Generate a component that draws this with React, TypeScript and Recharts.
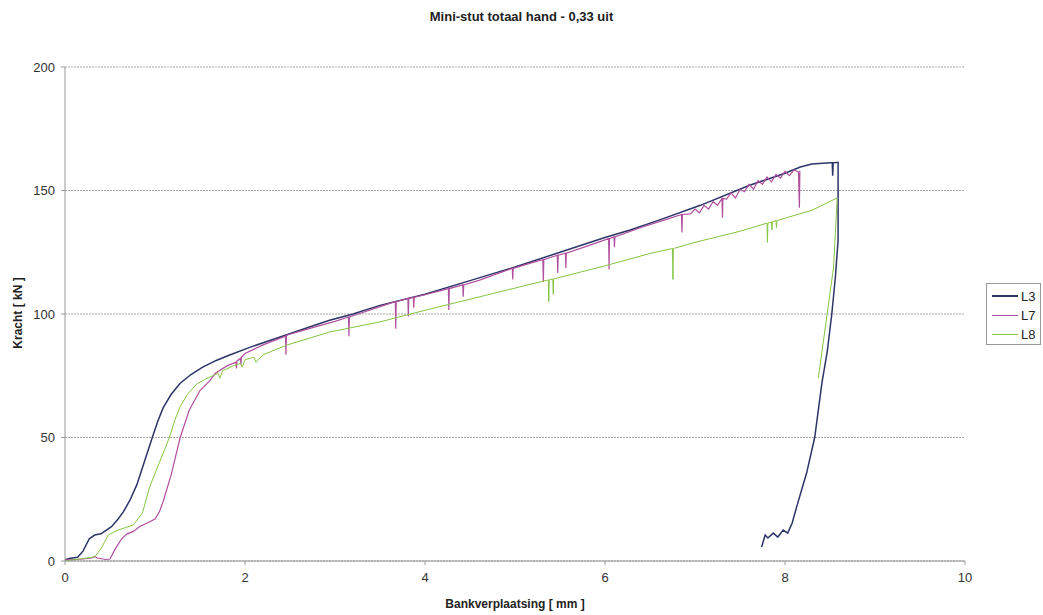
import React from "react";
import { LineChart, Line, XAxis, YAxis, CartesianGrid } from "recharts";

const title = "Mini-stut totaal hand - 0,33 uit";
const xTitle = "Bankverplaatsing [ mm ]";
const yTitle = "Kracht [ kN ]";
const xTicks = [0, 2, 4, 6, 8, 10];
const yTicks = [0, 50, 100, 150, 200];
const seriesNames = ["L3", "L7", "L8"];
const seriesColors = ["#2d3468", "#b14f9e", "#86c443"];

const l3X = [0, 0.05, 0.14, 0.2, 0.27, 0.33, 0.4, 0.44, 0.52, 0.59, 0.65, 0.72, 0.8, 0.88, 0.97, 1.03, 1.09, 1.18, 1.28, 1.4, 1.53, 1.68, 1.83, 2.06, 2.39, 2.7, 2.94, 3.2, 3.5, 4.0, 4.5, 5.0, 5.5, 6.0, 6.28, 6.6, 7.06, 7.6, 8.0, 8.17, 8.3, 8.5, 8.525, 8.53, 8.535, 8.57, 8.59, 8.59, 8.56, 8.52, 8.47, 8.41, 8.33, 8.24, 8.13, 8.08, 8.03, 7.98, 7.92, 7.87, 7.81, 7.78, 7.74];
const l3Y = [0.5, 1, 1.5, 4, 9, 10.5, 11, 12, 14, 17, 20, 24.5, 31, 40, 50, 56.5, 62, 67.5, 72, 75.5, 78.5, 81.2, 83.4, 86.6, 90.7, 94.5, 97.5, 100, 103.5, 108, 113.5, 119, 125, 131, 134, 138, 144, 152, 157, 159.5, 160.7, 161.2, 161.2, 156, 161.2, 161.3, 161.3, 130, 115, 100, 85, 72, 50, 35.6, 22, 15.4, 11.3, 12.5, 9.7, 11.3, 9.3, 10.5, 5.7];

const l7X = [0, 0.1, 0.2, 0.3, 0.33, 0.36, 0.45, 0.5, 0.56, 0.63, 0.69, 0.76, 0.83, 0.92, 1.0, 1.05, 1.09, 1.18, 1.28, 1.38, 1.5, 1.61, 1.67, 1.8, 1.9, 1.905, 1.91, 1.95, 1.955, 1.96, 2.0, 2.2, 2.45, 2.455, 2.46, 2.47, 2.75, 3.0, 3.15, 3.155, 3.16, 3.3, 3.5, 3.67, 3.675, 3.68, 3.75, 3.81, 3.815, 3.82, 3.87, 3.875, 3.88, 4.0, 4.26, 4.265, 4.27, 4.42, 4.425, 4.43, 4.6, 4.97, 4.975, 4.98, 5.2, 5.31, 5.315, 5.32, 5.47, 5.475, 5.48, 5.56, 5.565, 5.57, 5.8, 6.04, 6.045, 6.05, 6.1, 6.105, 6.11, 6.4, 6.7, 6.85, 6.855, 6.86, 6.95, 7.0, 7.05, 7.1, 7.15, 7.2, 7.25, 7.3, 7.305, 7.31, 7.35, 7.4, 7.45, 7.5, 7.55, 7.6, 7.65, 7.7, 7.75, 7.8, 7.85, 7.9, 7.95, 8.0, 8.05, 8.1, 8.15, 8.16, 8.165];
const l7Y = [0.5, 0.5, 0.8, 1.2, 1.8, 1.2, 0.6, 0.8, 5, 9, 11, 12, 14, 15.5, 17, 20, 24, 35, 50, 61, 69, 73, 76, 79, 80.5, 78, 81, 82, 79.5, 82.5, 84, 87.5, 91, 83.5, 91, 91.5, 94.5, 97, 98.8, 91, 98.8, 100.5, 103, 105, 94, 105, 105.7, 106.3, 99, 106.3, 106.8, 102.5, 106.8, 107.8, 110.3, 101.6, 110.3, 111.8, 107, 111.8, 113.6, 118.5, 114, 118.5, 120.9, 122, 113, 122, 123.8, 116.6, 123.8, 124.6, 118.6, 124.6, 127.5, 130.5, 118, 130.5, 131.2, 127, 131.2, 135, 138.5, 140.3, 133, 140.3, 140.5, 142.5, 141, 144, 142.5, 145.5, 144, 146.8, 139, 146.8, 146.5, 149, 147, 150.5, 149.5, 152.5, 150.5, 154, 152.5, 155.5, 153.5, 156.5, 155, 157.8, 156, 158.3, 157.5, 143, 158];

const l8X = [0, 0.1, 0.2, 0.3, 0.33, 0.4, 0.48, 0.53, 0.59, 0.67, 0.76, 0.86, 0.94, 1.05, 1.16, 1.22, 1.28, 1.36, 1.46, 1.55, 1.64, 1.7, 1.72, 1.75, 1.87, 1.95, 1.97, 2.0, 2.1, 2.12, 2.2, 2.47, 2.94, 3.5, 4.0, 4.5, 5.0, 5.37, 5.375, 5.38, 5.42, 5.425, 5.43, 6.0, 6.5, 6.75, 6.755, 6.76, 7.0, 7.5, 7.8, 7.805, 7.81, 7.85, 7.855, 7.86, 7.9, 7.905, 7.91, 8.0, 8.3, 8.58, 8.58, 8.54, 8.37];
const l8Y = [0, 0.5, 1, 1.5, 1.6, 5, 10.5, 11.5, 12.5, 13.5, 14.6, 19.4, 30, 40, 50, 57, 62.5, 67.5, 71.5, 73.5, 75, 76, 74, 77, 79, 80, 78.5, 81.5, 82.5, 80.5, 83.5, 87.5, 92.7, 96.8, 101.5, 106, 110.5, 113.8, 105, 113.8, 114.2, 108, 114.2, 119.5, 124.5, 126.5, 114, 126.5, 129, 133.5, 136.8, 129, 136.8, 137.3, 134, 137.3, 137.8, 135, 137.8, 138.8, 142, 147, 147, 119, 74];

const zip = (xs: number[], ys: number[]) => xs.map((x, i) => ({ x, y: ys[i] }));
const l3Data = zip(l3X, l3Y);
const l7Data = zip(l7X, l7Y);
const l8Data = zip(l8X, l8Y);

const font = "'Liberation Sans', Arial, sans-serif";

export default function App() {
  return (
    <div style={{ position: "absolute", left: 0, top: 0, width: 1043, height: 615, background: "#fff", fontFamily: font }}>
      <LineChart width={1043} height={615} margin={{ top: 67, right: 78, bottom: 24, left: 5 }}>
        <CartesianGrid horizontal={true} vertical={false} stroke="#a8a8a8" strokeDasharray="2 1" />
        <XAxis
          type="number"
          dataKey="x"
          domain={[0, 10]}
          ticks={xTicks}
          height={30}
          tickSize={4}
          tickMargin={8}
          stroke="#999"
          tick={{ fill: "#333", fontSize: 13, fontFamily: font }}
          allowDuplicatedCategory={false}
        />
        <YAxis
          type="number"
          dataKey="y"
          domain={[0, 200]}
          ticks={yTicks}
          width={60}
          tickSize={4}
          tickMargin={6}
          stroke="#999"
          tick={{ fill: "#333", fontSize: 13, fontFamily: font }}
        />
        <Line data={l3Data} dataKey="y" type="linear" stroke={seriesColors[0]} strokeWidth={1.5} dot={false} isAnimationActive={false} />
        <Line data={l7Data} dataKey="y" type="linear" stroke={seriesColors[1]} strokeWidth={1.2} dot={false} isAnimationActive={false} />
        <Line data={l8Data} dataKey="y" type="linear" stroke={seriesColors[2]} strokeWidth={1} dot={false} isAnimationActive={false} />
      </LineChart>
      <div style={{ position: "absolute", left: 0, width: 1043, top: 9, textAlign: "center", fontWeight: "bold", fontSize: 13, color: "#222" }}>{title}</div>
      <div style={{ position: "absolute", left: 65, width: 900, top: 597, textAlign: "center", fontWeight: "bold", fontSize: 12, color: "#222" }}>{xTitle}</div>
      <div style={{ position: "absolute", left: 18, top: 314, width: 0, height: 0 }}>
        <div style={{ position: "absolute", left: -50, top: -8, width: 100, textAlign: "center", transform: "rotate(-90deg)", fontWeight: "bold", fontSize: 12, color: "#222", whiteSpace: "nowrap" }}>{yTitle}</div>
      </div>
      <div style={{ position: "absolute", left: 986, top: 283, width: 55, height: 62, border: "1px solid #999", boxSizing: "border-box", background: "#fff" }}>
        {seriesNames.map((n, i) => (
          <div key={n} style={{ position: "absolute", left: 5, top: 4 + i * 19, height: 16, display: "flex", alignItems: "center" }}>
            <div style={{ width: 26, height: 0, borderTop: `${i === 0 ? 2 : 1.5}px solid ${seriesColors[i]}` }} />
            <span style={{ marginLeft: 3, fontSize: 13, color: "#222" }}>{n}</span>
          </div>
        ))}
      </div>
    </div>
  );
}
